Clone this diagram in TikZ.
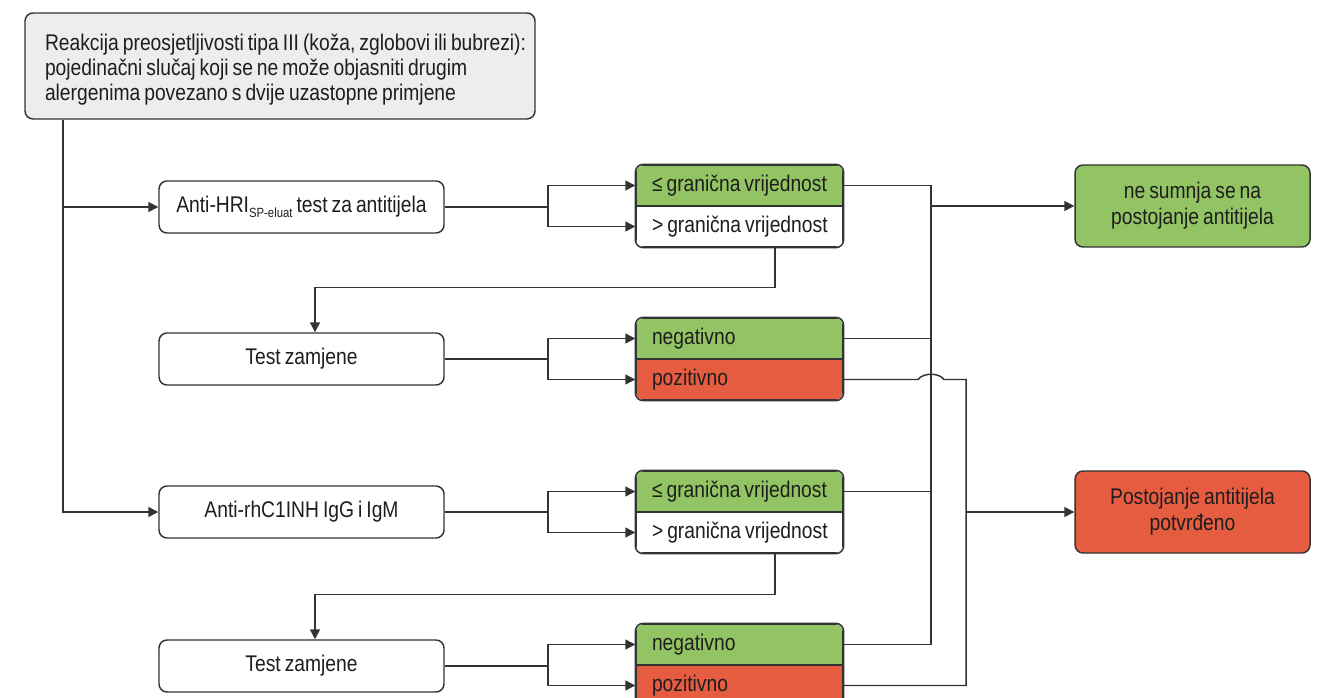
\documentclass[tikz,border=0pt]{standalone}
\usepackage{fontspec}
\setmainfont{Liberation Sans}[FakeStretch=0.85,WordSpace=0.75]
\usetikzlibrary{arrows.meta,calc}
\definecolor{okgreen}{HTML}{93C464}
\definecolor{badred}{HTML}{E65C40}
\definecolor{boxgray}{HTML}{EDEDED}
\definecolor{edge}{HTML}{333333}
\definecolor{ink}{HTML}{1E1E1E}
\begin{document}
\begin{tikzpicture}[x=0.75pt,y=-0.75pt,
  font=\fontsize{17}{18.75}\selectfont, text=ink,
  line/.style={draw=edge, line width=1.1pt},
  arr/.style={line, -{Triangle[length=7.5pt,width=7.5pt]}},
  topbox/.style={draw=edge, line width=1.1pt, rounded corners=6pt, fill=boxgray,
    minimum width=382.5pt, minimum height=79.5pt, text width=352.5pt,
    inner xsep=15pt, align=flush left},
  testbox/.style={draw=edge, line width=1.1pt, rounded corners=6pt, fill=white,
    minimum width=213.75pt, minimum height=39pt, align=center},
  half/.style={draw=edge, line width=1.1pt, rectangle, minimum height=30.75pt,
    text width=131.25pt, inner xsep=12pt, inner ysep=0pt, align=flush left},
  result/.style={draw=edge, line width=1.1pt, rounded corners=6pt,
    minimum width=176.25pt, minimum height=61.5pt, align=center,
    font=\fontsize{17}{19.5}\selectfont},
  frame/.style={draw=edge, line width=1.1pt, rounded corners=6pt}
]
\useasboundingbox (0,0) rectangle (1326,698);
\clip (0,0) rectangle (1326,698);

% helper x positions
\coordinate (x63) at (63,0);
\coordinate (x315) at (315,0);
\coordinate (x548) at (548,0);
\coordinate (x775) at (775,0);
\coordinate (x931) at (931,0);
\coordinate (x966) at (966,0);

% main boxes
\node[topbox] (top) at (280,66) {\mbox{\rule{0pt}{18.5pt}Reakcija preosjetljivosti tipa III (koža, zglobovi ili bubrezi):}\\\mbox{pojedinačni slučaj koji se ne može objasniti drugim}\\\mbox{alergenima povezano s dvije uzastopne primjene}};
\node[testbox] (a1) at (301.5,207) {Anti-HRI\raisebox{-0.35ex}{\fontsize{10}{10}\selectfont SP-eluat} test za antitijela};
\node[testbox] (t1) at (301.5,359) {Test zamjene};
\node[testbox] (a2) at (301.5,512) {Anti-rhC1INH IgG i IgM};
\node[testbox] (t2) at (301.5,666) {Test zamjene};

% split boxes
\begin{scope}
\clip[rounded corners=6pt] (636,165) rectangle (843,247);
\node[half, fill=okgreen] (h1a) at (739.5,185.5) {\mbox{≤ granična vrijednost}};
\node[half, fill=white] (h1b) at (739.5,226.5) {\mbox{> granična vrijednost}};
\end{scope}
\draw[frame] (h1a.north west) rectangle (h1b.south east);

\begin{scope}
\clip[rounded corners=6pt] (636,318) rectangle (843,400);
\node[half, fill=okgreen] (h2a) at (739.5,338.5) {negativno};
\node[half, fill=badred] (h2b) at (739.5,379.5) {pozitivno};
\end{scope}
\draw[frame] (h2a.north west) rectangle (h2b.south east);

\begin{scope}
\clip[rounded corners=6pt] (636,471) rectangle (843,553);
\node[half, fill=okgreen] (h3a) at (739.5,491.5) {\mbox{≤ granična vrijednost}};
\node[half, fill=white] (h3b) at (739.5,532.5) {\mbox{> granična vrijednost}};
\end{scope}
\draw[frame] (h3a.north west) rectangle (h3b.south east);

\begin{scope}
\clip[rounded corners=6pt] (636,624) rectangle (843,706);
\node[half, fill=okgreen] (h4a) at (739.5,644.5) {negativno};
\node[half, fill=badred] (h4b) at (739.5,685.5) {pozitivno};
\end{scope}
\draw[frame] (h4a.north west) rectangle (h4b.south east);

% results
\node[result, fill=okgreen] (g) at (1192.5,206) {ne sumnja se na\\postojanje antitijela};
\node[result, fill=badred] (r) at (1192.5,512) {Postojanje antitijela\\potvrđeno};

% left trunk
\draw[arr] (top.south -| x63) |- (a2.west);
\draw[arr] (a1.west -| x63) -- (a1.west);

% splits
\foreach \b/\p/\q in {a1/h1a/h1b, t1/h2a/h2b, a2/h3a/h3b, t2/h4a/h4b}{
  \draw[line] (\b.east) -- (\b.east -| x548);
  \draw[arr] (\b.east -| x548) |- (\p.west);
  \draw[arr] (\b.east -| x548) |- (\q.west);
}

% down connectors
\draw[arr] (h1b.south -| x775) -- ++(0,40) -| (t1.north -| x315);
\draw[arr] (h3b.south -| x775) -- ++(0,41) -| (t2.north -| x315);

% bus 1 (negative)
\draw[line] (h1a.east) -- (h1a.east -| x931) -- (h4a.east -| x931) -- (h4a.east);
\draw[line] (h2a.east) -- (h2a.east -| x931);
\draw[line] (h3a.east) -- (h3a.east -| x931);
\draw[arr] (g.west -| x931) -- (g.west);

% bus 2 (positive)
\draw[line] (h2b.east) -- ($(h2b.east -| x931)+(-13,0)$)
  .. controls +(5,-7) and +(-5,-7) .. ($(h2b.east -| x931)+(13,0)$)
  -- (h2b.east -| x966) -- (h4b.east -| x966) -- (h4b.east);
\draw[arr] (r.west -| x966) -- (r.west);
\end{tikzpicture}
\end{document}
